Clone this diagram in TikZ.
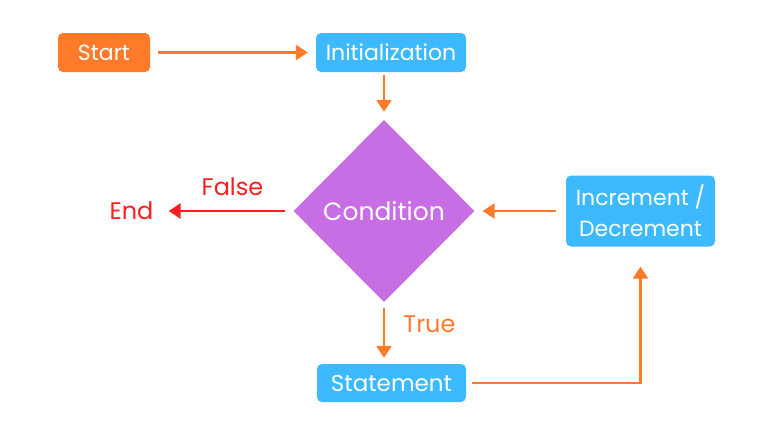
\documentclass[tikz,border=0pt]{standalone}
\usepackage{fontspec}
\setmainfont{Poppins}
\usepackage{tikz}
\usetikzlibrary{arrows.meta,positioning,shapes.geometric}
\definecolor{flowor}{RGB}{255,122,41}
\definecolor{flowbl}{RGB}{60,185,255}
\definecolor{flowpu}{RGB}{200,110,228}
\definecolor{flowrd}{RGB}{255,30,30}
\begin{document}
\begin{tikzpicture}[x=1pt,y=-1pt, every node/.style={font=\fontsize{22}{31}\selectfont},
  box/.style={rounded corners=5pt,inner sep=0pt,text=white,fill=flowbl,align=center},
  term/.style={box,fill=flowor}, decide/.style={diamond,inner sep=0pt,fill=flowpu,text=white,
  minimum width=181pt,minimum height=182pt,font=\fontsize{25}{30}\selectfont},
  edge/.style={-{Triangle[length=12pt,width=15pt]}, line width=2.6pt,draw=flowor},
  lab/.style={text=flowor,inner sep=0pt,font=\fontsize{24}{30}\selectfont}]
  \useasboundingbox (0,0) rectangle (768,426);
  \node[term,minimum width=92pt,minimum height=39pt] (start) at (104,52.5) {Start};
  \node[box,minimum width=150pt,minimum height=39pt] (init) at (391,52.5) {Initialization};
  \node[decide] (cond) at (384,211) {Condition};
  \node[box,minimum width=149pt,minimum height=71pt] (incdec) at (640.5,211) {Increment /\\Decrement};
  \node[box,minimum width=149pt,minimum height=38pt,font=\fontsize{23}{30}\selectfont] (stmt) at (391.5,383) {Statement};
  \node[lab,text=flowrd] (finish) at (131.5,211) {End};
  % connectors
  \draw[edge,shorten <=8pt,shorten >=8pt] (start) -- (init);
  \draw[edge,shorten <=3pt,shorten >=8pt] (init.south -| cond.north) -- (cond.north);
  \draw[edge,draw=flowrd,shorten <=8pt,shorten >=15pt] (cond.west) -- node[lab,text=flowrd,above=14pt,xshift=9pt] {False} (cond.west -| finish.east);
  \draw[edge,shorten <=10pt,shorten >=8pt] (incdec.west) -- (cond.east);
  \draw[edge,shorten <=6pt,shorten >=6pt] (cond.south) -- node[lab,right=18pt,pos=0.35] {True} (cond.south |- stmt.north);
  \draw[edge,shorten <=6pt,shorten >=20pt] (stmt.east) -| (incdec.south);
\end{tikzpicture}
\end{document}
